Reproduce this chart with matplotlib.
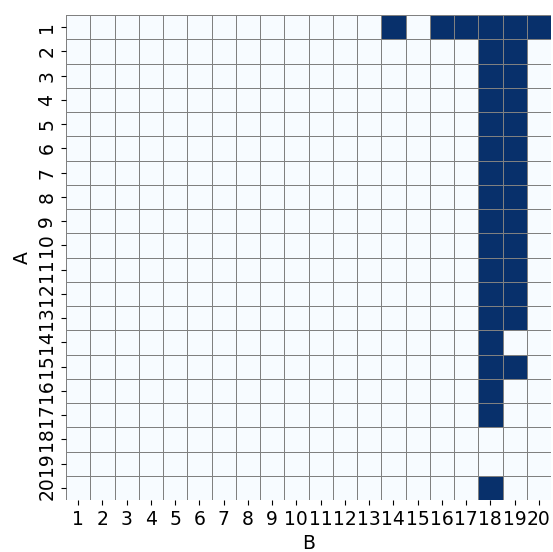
import matplotlib
matplotlib.use("Agg")
import matplotlib.pyplot as plt
import numpy as np
import seaborn as sns

rows = [str(i) for i in range(1, 21)]
cols = [str(i) for i in range(1, 21)]
# dark cells per row (column numbers)
dark = {
    1: [14, 16, 17, 18, 19, 20],
    2: [18, 19], 3: [18, 19], 4: [18, 19], 5: [18, 19], 6: [18, 19],
    7: [18, 19], 8: [18, 19], 9: [18, 19], 10: [18, 19], 11: [18, 19],
    12: [18, 19], 13: [18, 19],
    14: [18],
    15: [18, 19],
    16: [18], 17: [18],
    18: [], 19: [],
    20: [18],
}

mat = np.zeros((len(rows), len(cols)))
for r, cs in dark.items():
    for c in cs:
        mat[r - 1, c - 1] = 1

plt.rcParams['font.size'] = 13.5
fig = plt.figure(figsize=(5.53, 5.52), dpi=100)
ax = fig.add_axes([66/553, 52/552, 485/553, 485/552])
sns.heatmap(mat, ax=ax, cmap="Blues", cbar=False, linewidths=0.5, linecolor="gray",
            xticklabels=cols, yticklabels=rows, vmin=0, vmax=1)
ax.set_xlabel("B")
ax.set_ylabel("A")
ax.tick_params(axis='x', rotation=0)
ax.tick_params(axis='y', rotation=90)
for lab in ax.get_yticklabels():
    lab.set_va('center')
fig.savefig("out.png", dpi=100)
